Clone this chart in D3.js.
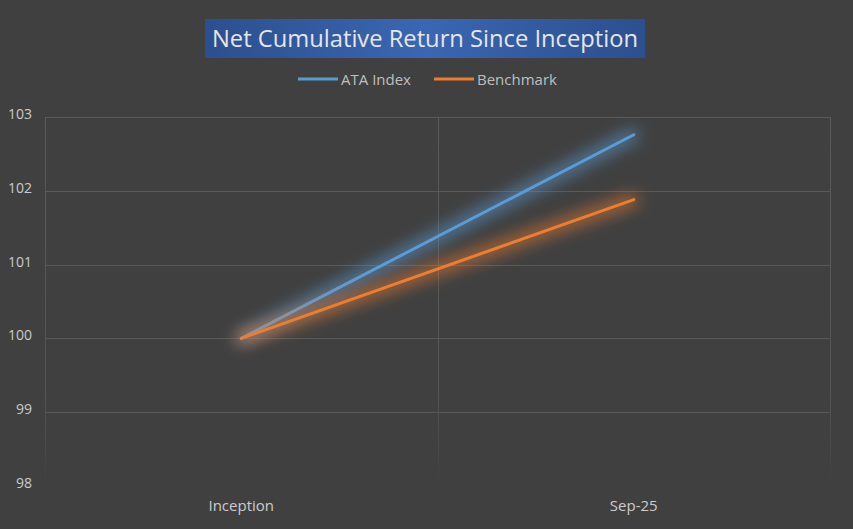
<!DOCTYPE html>
<html><head><meta charset="utf-8">
<script src="https://cdn.jsdelivr.net/npm/d3@7/dist/d3.min.js"></script>
<style>
html,body{margin:0;padding:0;background:#404040;}
svg{display:block;}
</style></head>
<body>
<div id="chart"></div>
<script>
const categories = ["Inception", "Sep-25"];
const ataIndex = [100, 102.76];
const benchmark = [100, 101.88];
const seriesNames = ["ATA Index", "Benchmark"];
const seriesColors = ["#5b9bd5", "#ed7d31"];
const yTicks = [98, 99, 100, 101, 102, 103];
const title = "Net Cumulative Return Since Inception";

const W = 853, H = 529;
const m = {left: 45, right: 23, top: 117, bottom: 43};
const svg = d3.select("#chart").append("svg").attr("width", W).attr("height", H);
svg.append("rect").attr("width", W).attr("height", H).attr("fill", "#404040");

const defs = svg.append("defs");
const tg = defs.append("linearGradient").attr("id","titleGrad").attr("x1","0").attr("x2","1").attr("y1","0").attr("y2","0");
tg.append("stop").attr("offset","0").attr("stop-color","#2c4f8e");
tg.append("stop").attr("offset","0.5").attr("stop-color","#3a66b3");
tg.append("stop").attr("offset","1").attr("stop-color","#2c4f8e");

const vg = defs.append("linearGradient").attr("id","vGrad").attr("gradientUnits","userSpaceOnUse")
  .attr("x1",0).attr("x2",0).attr("y1",m.top).attr("y2",H-m.bottom);
vg.append("stop").attr("offset","0").attr("stop-color","#5a5a5a");
vg.append("stop").attr("offset","0.75").attr("stop-color","#555555");
vg.append("stop").attr("offset","1").attr("stop-color","#404040");

seriesColors.forEach((c,i)=>{
  const f = defs.append("filter").attr("id","glow"+i).attr("x","-20%").attr("y","-60%").attr("width","140%").attr("height","220%");
  f.append("feMorphology").attr("in","SourceGraphic").attr("operator","dilate").attr("radius",3).attr("result","d");
  f.append("feGaussianBlur").attr("in","d").attr("stdDeviation",8).attr("result","b");
  f.append("feComponentTransfer").attr("in","b").attr("result","b2")
    .append("feFuncA").attr("type","linear").attr("slope",0.75);
  const mg = f.append("feMerge");
  mg.append("feMergeNode").attr("in","b2");
  mg.append("feMergeNode").attr("in","SourceGraphic");
});

const x = d3.scaleBand().domain(categories).range([m.left, W-m.right]).padding(0);
const y = d3.scaleLinear().domain([98,103]).range([H-m.bottom, m.top]);

// horizontal gridlines (except bottom)
svg.append("g").selectAll("line").data(yTicks.filter(t=>t>98)).join("line")
  .attr("x1", m.left).attr("x2", W-m.right)
  .attr("y1", d=>Math.round(y(d))+0.5).attr("y2", d=>Math.round(y(d))+0.5)
  .attr("stroke","#595959").attr("stroke-width",1);

// vertical lines: plot borders and category separators
const vx = [m.left, x(categories[1]), W-m.right];
svg.append("g").selectAll("line").data(vx).join("line")
  .attr("x1", d=>Math.round(d)+0.5).attr("x2", d=>Math.round(d)+0.5)
  .attr("y1", m.top).attr("y2", H-m.bottom)
  .attr("stroke","url(#vGrad)").attr("stroke-width",1);

// y axis labels
const yAxis = d3.axisLeft(y).tickValues(yTicks).tickFormat(d3.format("d")).tickSize(0).tickPadding(13);
const yg = svg.append("g").attr("transform",`translate(${m.left},0)`).call(yAxis);
yg.select(".domain").remove();
yg.selectAll("text").attr("fill","#cccccc").style("font-family","'Open Sans', sans-serif").style("font-size","14px").attr("dy","0.1em");

// x axis labels
const xAxis = d3.axisBottom(x).tickSize(0).tickPadding(14);
const xg = svg.append("g").attr("transform",`translate(0,${H-m.bottom})`).call(xAxis);
xg.select(".domain").remove();
xg.selectAll("text").attr("fill","#cccccc").style("font-family","'Open Sans', sans-serif").style("font-size","15px");

// lines
const line = d3.line().x((d,i)=>x(categories[i]) + x.bandwidth()/2).y(d=>y(d));
[ataIndex, benchmark].forEach((s,i)=>{
  svg.append("path").datum(s).attr("d", line).attr("fill","none")
    .attr("stroke", seriesColors[i]).attr("stroke-width",3).attr("stroke-linecap","round")
    .attr("filter", `url(#glow${i})`);
});

// title
svg.append("rect").attr("x",205).attr("y",19).attr("width",440).attr("height",39).attr("fill","url(#titleGrad)");
svg.append("text").attr("x",425).attr("y",47).attr("text-anchor","middle")
  .attr("fill","#e6e6e6").style("font-family","'Open Sans', sans-serif").style("font-size","23px")
  .attr("textLength",426).attr("lengthAdjust","spacingAndGlyphs").text(title);

// legend
const legX = [298, 434];
const lg = svg.append("g");
seriesNames.forEach((n,i)=>{
  lg.append("line").attr("x1",legX[i]).attr("x2",legX[i]+40).attr("y1",79).attr("y2",79)
    .attr("stroke",seriesColors[i]).attr("stroke-width",3);
  lg.append("text").attr("x",legX[i]+43).attr("y",84.5).attr("fill","#bfbfbf")
    .style("font-family","'Open Sans', sans-serif").style("font-size","15px").text(n);
});
</script>
</body></html>
